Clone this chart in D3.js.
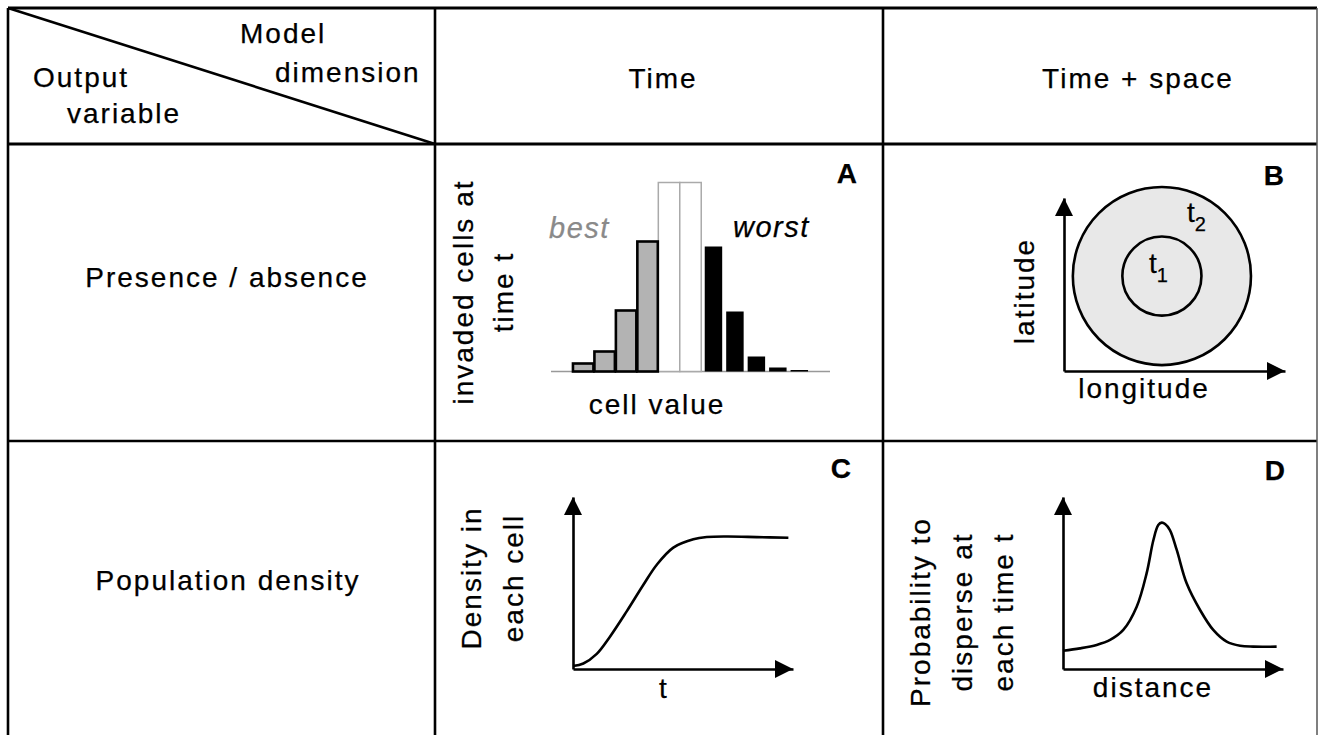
<!DOCTYPE html>
<html><head><meta charset="utf-8">
<script src="https://cdn.jsdelivr.net/npm/d3@7"></script>
<style>
html,body{margin:0;padding:0;background:#fff;}
svg{display:block;}
text{font-family:"Liberation Sans",Arial,Helvetica,sans-serif;fill:#000;stroke:#000;stroke-width:0.25px;}
</style></head>
<body>
<svg id="chart" width="1318" height="735"></svg>
<script>
// ---------- data ----------
const columnHeaders = ["Time", "Time + space"];
const rowHeaders = ["Presence / absence", "Population density"];
const cornerTop = ["Model", "dimension"];
const cornerBottom = ["Output", "variable"];
const panelLetters = ["A", "B", "C", "D"];

// Panel A: histogram of invaded cells per cell-value bin
const histBins = [0,1,2,3,4,5,6,7,8,9,10,11,12];
const histValues = [0, 8, 20, 61, 130, 189, 189, 125, 60, 15, 4, 1.5, 0];
const histGroups = ["none","best","best","best","best","mid","mid","worst","worst","worst","worst","worst","none"];

// Panel B: invaded area at two times (centre and radius in axis units)
const circleTimes = ["t2", "t1"];
const circleCx = [44.3, 44.3];
const circleCy = [54.9, 54.9];
const circleR = [40.3, 17.9];

// Panel C: density through time (logistic growth)
const growthT = [0, 4.7, 10.8, 16.8, 24.4, 32, 38, 45.6, 54.7, 60.8, 70, 83.5, 97.9];
const growthDensity = [1.7, 3.2, 8.8, 18.8, 33.5, 49.0, 60.5, 70.6, 75.4, 76.7, 77.0, 76.7, 76.3];

// Panel D: dispersal kernel
const kernelDist = [0, 7.7, 15.3, 21.4, 27.4, 33.5, 38, 41.1, 43.3, 44.9, 46.4, 48.6, 51.7, 56.2, 62.3, 68.3, 74.4, 80.5, 86.5, 97.1];
const kernelProb = [10.6, 12, 14, 16.9, 22.7, 36.2, 55.6, 75, 83.7, 85.1, 84.3, 80.8, 69.2, 49.8, 34.3, 22.7, 15.9, 13.5, 13, 13];

// ---------- layout ----------
const svg = d3.select("#chart");
const FS = 28, LS = 2;
const colX = [8, 435, 883, 1317];
const rowY = [8, 144, 441, 735];
const LW = 2.6;

// grid lines
const grid = svg.append("g");
grid.append("line").attr("x1", colX[0]).attr("x2", colX[3]).attr("y1", rowY[0]).attr("y2", rowY[0]).attr("stroke","#000").attr("stroke-width",3);
grid.append("line").attr("x1", colX[0]).attr("x2", colX[3]).attr("y1", rowY[1]).attr("y2", rowY[1]).attr("stroke","#000").attr("stroke-width",3);
grid.append("line").attr("x1", colX[0]).attr("x2", colX[3]).attr("y1", rowY[2]).attr("y2", rowY[2]).attr("stroke","#000").attr("stroke-width",LW);
[0,1,2].forEach(i => grid.append("line").attr("x1", colX[i]).attr("x2", colX[i]).attr("y1", rowY[0]).attr("y2", rowY[3]).attr("stroke","#000").attr("stroke-width",LW));
grid.append("line").attr("x1", colX[3]).attr("x2", colX[3]).attr("y1", rowY[0]).attr("y2", rowY[3]).attr("stroke","#555").attr("stroke-width",1.5);
// diagonal in corner cell
grid.append("line").attr("x1", colX[0]).attr("y1", rowY[0]).attr("x2", colX[1]).attr("y2", rowY[1]).attr("stroke","#000").attr("stroke-width",LW);

function txt(g, s, x, y, opts = {}) {
  const t = g.append("text").attr("x", x).attr("y", y).attr("font-size", opts.size || FS)
    .attr("letter-spacing", opts.ls != null ? opts.ls : LS)
    .attr("text-anchor", opts.anchor || "start").text(s);
  if (opts.weight) t.attr("font-weight", opts.weight);
  if (opts.style) t.attr("font-style", opts.style);
  if (opts.fill) t.style("fill", opts.fill).style("stroke", opts.fill);
  return t;
}
function vtxt(g, s, x, y, opts = {}) {
  const t = g.append("text").attr("transform", `translate(${x},${y}) rotate(-90)`)
    .attr("font-size", opts.size || FS).attr("letter-spacing", LS)
    .attr("text-anchor", "middle").text(s);
  return t;
}

// corner texts
const hdr = svg.append("g");
txt(hdr, cornerTop[0], 240, 43);
txt(hdr, cornerTop[1], 275, 82);
txt(hdr, cornerBottom[0], 33, 87);
txt(hdr, cornerBottom[1], 67, 123);
// column headers
txt(hdr, columnHeaders[0], 663, 88, {anchor:"middle"});
txt(hdr, columnHeaders[1], 1138, 88, {anchor:"middle"});
// row headers
txt(hdr, rowHeaders[0], 227, 287, {anchor:"middle"});
txt(hdr, rowHeaders[1], 228, 590, {anchor:"middle"});
// panel letters
[[857,183],[1284,185],[851,478],[1285,480]].forEach((p,i) =>
  txt(hdr, panelLetters[i], p[0], p[1], {anchor:"end", weight:"bold", ls:0}));

// arrow helper
function arrowHead(g, tipX, tipY, dir) {
  const L = 18, W = 9;
  let pts;
  if (dir === "up") pts = [[tipX, tipY],[tipX-W, tipY+L],[tipX+W, tipY+L]];
  else pts = [[tipX, tipY],[tipX-L, tipY-W],[tipX-L, tipY+W]];
  g.append("polygon").attr("points", pts.map(p=>p.join(",")).join(" ")).attr("fill","#000");
}
function axesWithArrows(g, x, y) {
  const [x0, x1] = x.range(), [y0, y1] = y.range();
  g.append("g").attr("transform", `translate(0,${y0})`)
    .call(d3.axisBottom(x).tickValues([]).tickSizeOuter(0))
    .call(s => s.select(".domain").attr("stroke","#000").attr("stroke-width",LW));
  g.append("g").attr("transform", `translate(${x0},0)`)
    .call(d3.axisLeft(y).tickValues([]).tickSizeOuter(0))
    .call(s => s.select(".domain").attr("stroke","#000").attr("stroke-width",LW));
  arrowHead(g, x1, y0, "right");
  arrowHead(g, x0, y1, "up");
}

// ---------- Panel A ----------
const gA = svg.append("g");
const xA = d3.scaleBand().domain(histBins).range([551, 830]).padding(0);
const yA = d3.scaleLinear().domain([0, 200]).range([371.5, 171.5]);
gA.append("line").attr("x1", xA.range()[0]).attr("x2", xA.range()[1])
  .attr("y1", yA(0)).attr("y2", yA(0)).attr("stroke","#999").attr("stroke-width",1.5);
const bw = xA.bandwidth();
gA.selectAll("rect.mid").data(histBins.filter(i => histGroups[i]==="mid")).join("rect")
  .attr("x", i => xA(i)).attr("y", i => yA(histValues[i]))
  .attr("width", bw).attr("height", i => yA(0)-yA(histValues[i]))
  .attr("fill","#fff").attr("stroke","#aaa").attr("stroke-width",1.5);
gA.selectAll("rect.best").data(histBins.filter(i => histGroups[i]==="best")).join("rect")
  .attr("x", i => xA(i)+0.5).attr("y", i => yA(histValues[i]))
  .attr("width", bw-1).attr("height", i => yA(0)-yA(histValues[i]))
  .attr("fill","#b3b3b3").attr("stroke","#000").attr("stroke-width",2.6);
gA.selectAll("rect.worst").data(histBins.filter(i => histGroups[i]==="worst")).join("rect")
  .attr("x", i => xA(i)+3.5).attr("y", i => yA(histValues[i]))
  .attr("width", bw-4).attr("height", i => yA(0)-yA(histValues[i]))
  .attr("fill","#000");
txt(gA, "best", 549, 238, {style:"italic", fill:"#8a8a8a", ls:1.5, size:29});
txt(gA, "worst", 733, 237, {style:"italic", ls:1.5, size:29});
vtxt(gA, "invaded cells at", 473, 292);
vtxt(gA, "time t", 513, 292);
txt(gA, "cell value", 657, 414, {anchor:"middle"});

// ---------- Panel B ----------
const gB = svg.append("g");
const xB = d3.scaleLinear().domain([0,100]).range([1064, 1285]);
const yB = d3.scaleLinear().domain([0,100]).range([371, 198]);
const rPx = r => xB(r) - xB(0);
gB.selectAll("circle").data(circleTimes).join("circle")
  .attr("cx", (d,i) => xB(circleCx[i])).attr("cy", (d,i) => yB(circleCy[i]))
  .attr("r", (d,i) => rPx(circleR[i]))
  .attr("fill","#e8e8e8").attr("stroke","#000").attr("stroke-width",LW);
axesWithArrows(gB, xB, yB);
// time labels
const t1 = gB.append("text").attr("x", 1149).attr("y", 273).attr("font-size", FS).text("t");
t1.append("tspan").attr("font-size", 20).attr("dy", 9).text("1");
const t2 = gB.append("text").attr("x", 1187).attr("y", 222).attr("font-size", FS).text("t");
t2.append("tspan").attr("font-size", 20).attr("dy", 9).text("2");
vtxt(gB, "latitude", 1034, 291);
txt(gB, "longitude", 1144, 398, {anchor:"middle"});

// ---------- Panel C ----------
const gC = svg.append("g");
const xC = d3.scaleLinear().domain([0,100]).range([573, 793]);
const yC = d3.scaleLinear().domain([0,100]).range([669, 497]);
axesWithArrows(gC, xC, yC);
gC.append("path").datum(growthT.map((t,i)=>[t, growthDensity[i]]))
  .attr("d", d3.line().x(d=>xC(d[0])).y(d=>yC(d[1])).curve(d3.curveCatmullRom.alpha(0.5)))
  .attr("fill","none").attr("stroke","#000").attr("stroke-width",LW);
vtxt(gC, "Density in", 481, 578);
vtxt(gC, "each cell", 523, 578);
txt(gC, "t", 664, 698, {anchor:"middle"});

// ---------- Panel D ----------
const gD = svg.append("g");
const xD = d3.scaleLinear().domain([0,100]).range([1063, 1283]);
const yD = d3.scaleLinear().domain([0,100]).range([669, 497]);
axesWithArrows(gD, xD, yD);
gD.append("path").datum(kernelDist.map((t,i)=>[t, kernelProb[i]]))
  .attr("d", d3.line().x(d=>xD(d[0])).y(d=>yD(d[1])).curve(d3.curveCatmullRom.alpha(0.5)))
  .attr("fill","none").attr("stroke","#000").attr("stroke-width",LW);
vtxt(gD, "Probability to", 930, 612);
vtxt(gD, "disperse at", 972, 612);
vtxt(gD, "each time t", 1013, 612);
txt(gD, "distance", 1153, 697, {anchor:"middle"});
</script>
</body></html>
